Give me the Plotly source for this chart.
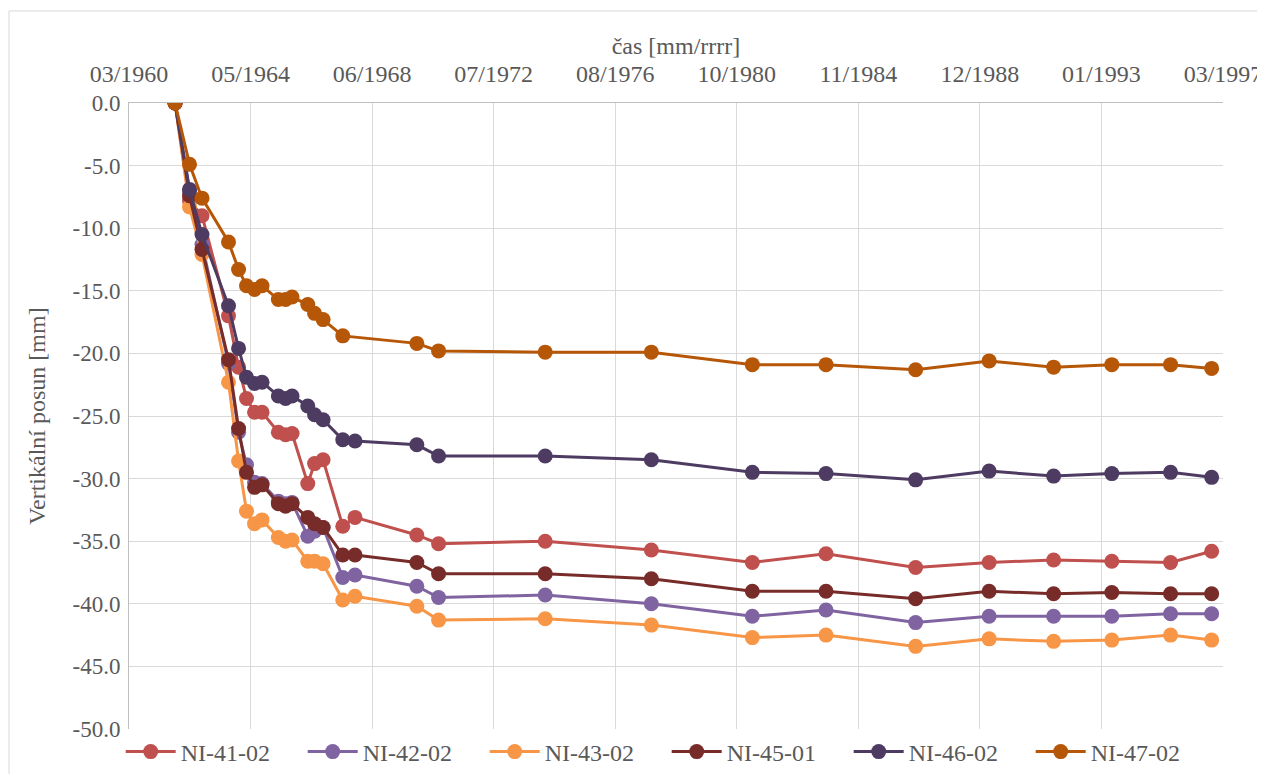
import plotly.graph_objects as go

# shared measurement dates
dates = [
    "1961-10-14", "1962-04-11", "1962-09-12", "1963-08-05", "1963-12-07",
    "1964-03-14", "1964-06-21", "1964-09-22", "1965-04-11", "1965-07-09",
    "1965-09-27", "1966-04-09", "1966-07-02", "1966-10-15", "1967-06-15",
    "1967-11-13", "1969-12-15", "1970-09-09", "1974-04-17", "1977-11-17",
    "1981-04-16", "1983-10-12", "1986-10-22", "1989-04-16", "1991-06-21",
    "1993-06-08", "1995-06-03", "1996-10-22",
]

ni_41_02 = [0.0, -7.8, -9.0, -17.0, -21.1, -23.6, -24.7, -24.7, -26.3, -26.5,
            -26.4, -30.4, -28.8, -28.5, -33.8, -33.1, -34.5, -35.2, -35.0, -35.7,
            -36.7, -36.0, -37.1, -36.7, -36.5, -36.6, -36.7, -35.8]
ni_42_02 = [0.0, -7.0, -11.3, -20.8, -26.3, -28.9, -30.3, -30.4, -31.8, -32.0,
            -31.9, -34.6, -34.2, -33.9, -37.9, -37.7, -38.6, -39.5, -39.3, -40.0,
            -41.0, -40.5, -41.5, -41.0, -41.0, -41.0, -40.8, -40.8]
ni_43_02 = [0.0, -8.3, -12.1, -22.3, -28.6, -32.6, -33.6, -33.3, -34.7, -35.0,
            -34.9, -36.6, -36.6, -36.8, -39.7, -39.4, -40.2, -41.3, -41.2, -41.7,
            -42.7, -42.5, -43.4, -42.8, -43.0, -42.9, -42.5, -42.9]
ni_45_01 = [0.0, -7.4, -11.7, -20.5, -26.0, -29.5, -30.7, -30.5, -32.0, -32.2,
            -32.0, -33.1, -33.6, -33.9, -36.1, -36.1, -36.7, -37.6, -37.6, -38.0,
            -39.0, -39.0, -39.6, -39.0, -39.2, -39.1, -39.2, -39.2]
ni_46_02 = [0.0, -6.9, -10.5, -16.2, -19.6, -21.9, -22.4, -22.3, -23.4, -23.6,
            -23.4, -24.2, -24.9, -25.3, -26.9, -27.0, -27.3, -28.2, -28.2, -28.5,
            -29.5, -29.6, -30.1, -29.4, -29.8, -29.6, -29.5, -29.9]
ni_47_02 = [0.0, -4.9, -7.6, -11.1, -13.3, -14.6, -14.9, -14.6, -15.7, -15.7,
            -15.5, -16.1, -16.8, -17.3, -18.6, None, -19.2, -19.8, -19.9, -19.9,
            -20.9, -20.9, -21.3, -20.6, -21.1, -20.9, -20.9, -21.2]

series_names = ["NI-41-02", "NI-42-02", "NI-43-02", "NI-45-01", "NI-46-02", "NI-47-02"]
series_values = [ni_41_02, ni_42_02, ni_43_02, ni_45_01, ni_46_02, ni_47_02]
series_colors = ["#C0504D", "#8064A2", "#F79646", "#772C2A", "#4D3B62", "#B65708"]

x_tick_dates = ["1960-03-25", "1964-05-03", "1968-06-11", "1972-07-20", "1976-08-28",
                "1980-10-06", "1984-11-14", "1988-12-23", "1993-01-31", "1997-03-11"]
x_tick_labels = ["03/1960", "05/1964", "06/1968", "07/1972", "08/1976",
                 "10/1980", "11/1984", "12/1988", "01/1993", "03/1997"]
y_ticks = [0, -5, -10, -15, -20, -25, -30, -35, -40, -45, -50]
y_tick_labels = ["0.0", "-5.0", "-10.0", "-15.0", "-20.0", "-25.0",
                 "-30.0", "-35.0", "-40.0", "-45.0", "-50.0"]

FONT = "Liberation Serif"
TXT = "#595959"

fig = go.Figure()
for name, vals, col in zip(series_names, series_values, series_colors):
    fig.add_trace(go.Scatter(
        x=dates, y=vals, name=name, mode="lines+markers",
        connectgaps=True,
        line=dict(color=col, width=3),
        marker=dict(color=col, size=15),
    ))

fig.update_layout(
    width=1265, height=766,
    paper_bgcolor="white", plot_bgcolor="white",
    margin=dict(l=121, r=50, t=95, b=45, autoexpand=False),
    font=dict(family=FONT, size=23, color=TXT),
    showlegend=True,
    legend=dict(
        orientation="h", x=-0.0076, xanchor="left", y=-0.0367, yanchor="middle",
        font=dict(family=FONT, size=24, color=TXT),
        entrywidth=117, entrywidthmode="pixels", itemwidth=50,
        bgcolor="rgba(0,0,0,0)", tracegroupgap=0,
    ),
    xaxis=dict(
        type="date", side="top", automargin=False,
        range=[x_tick_dates[0], x_tick_dates[-1]],
        tickmode="array", tickvals=x_tick_dates, ticktext=x_tick_labels,
        showgrid=True, gridcolor="#D9D9D9", gridwidth=1,
        showline=True, linecolor="#BFBFBF", linewidth=1,
        ticks="", ticklabelstandoff=10, ticklabeloverflow="allow",
        tickfont=dict(family=FONT, size=24, color=TXT),
        zeroline=False,
        title=dict(text="čas [mm/rrrr]", font=dict(family=FONT, size=24, color=TXT), standoff=0),
    ),
    yaxis=dict(
        range=[-50, 0], automargin=False,
        tickmode="array", tickvals=y_ticks, ticktext=y_tick_labels,
        showgrid=True, gridcolor="#D9D9D9", gridwidth=1,
        showline=True, linecolor="#BFBFBF", linewidth=1,
        ticks="", ticklabelstandoff=3,
        tickfont=dict(family=FONT, size=23, color=TXT),
        zeroline=False,
        title=dict(text="Vertikální posun [mm]", font=dict(family=FONT, size=24, color=TXT), standoff=20),
    ),
    shapes=[dict(type="rect", xref="paper", yref="paper",
                 x0=-0.1097, x1=2.0, y0=-1.0, y1=1.147,
                 line=dict(color="#D9D9D9", width=1), fillcolor="rgba(0,0,0,0)", layer="below")],
)

fig.write_html("out.html")
